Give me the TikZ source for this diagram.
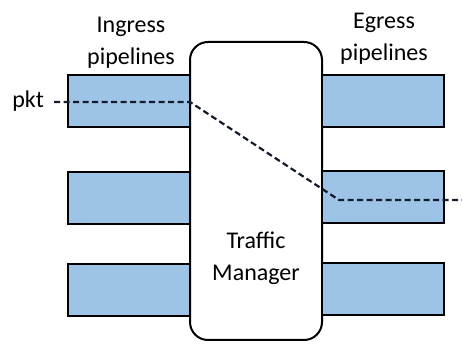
\documentclass[tikz,border=0pt]{standalone}
\usepackage{fontspec}
\setmainfont{Carlito}
\begin{document}
\begin{tikzpicture}[x=1pt,y=1pt,
  pipe/.style={draw=black,line width=2.6pt,fill=pipeblue,minimum width=122pt,minimum height=52pt,inner sep=0pt},
  tm/.style={draw=black,line width=2pt,fill=white,rounded corners=18pt,minimum width=132pt,minimum height=298pt,inner sep=0pt},
  lbl/.style={font=\fontsize{24}{32}\selectfont,align=center,inner sep=0pt},
  pktline/.style={line width=2.2pt,draw=pktcol,dash pattern=on 6pt off 3.5pt}]
\definecolor{pipeblue}{HTML}{9DC3E6}
\definecolor{pktcol}{HTML}{141B2B}
\useasboundingbox (0,0) rectangle (462,344);
\node[tm] (tm) at (256,153) {};
\node[pipe] (i1) at (129,243) {};
\node[pipe] (i2) at (129,146) {};
\node[pipe] (i3) at (129,54) {};
\node[pipe] (e1) at (383,243) {};
\node[pipe] (e2) at (383,147) {};
\node[pipe] (e3) at (383,55) {};
\node[lbl] (inlbl) at (131,301) {Ingress\\pipelines};
\node[lbl] (eglbl) at (384,305) {Egress\\pipelines};
\node[lbl] (tmlbl) at (256,86) {Traffic\\Manager};
\node[lbl,anchor=base east] (pkt) at (44,236) {pkt};
\coordinate (start) at (54,242);
\coordinate (bend1) at (190,242);
\coordinate (bend2) at (339,144);
\coordinate (out) at (462,144);
\draw[pktline] (start) -- (bend1) -- (bend2) -- (out);
\end{tikzpicture}
\end{document}
